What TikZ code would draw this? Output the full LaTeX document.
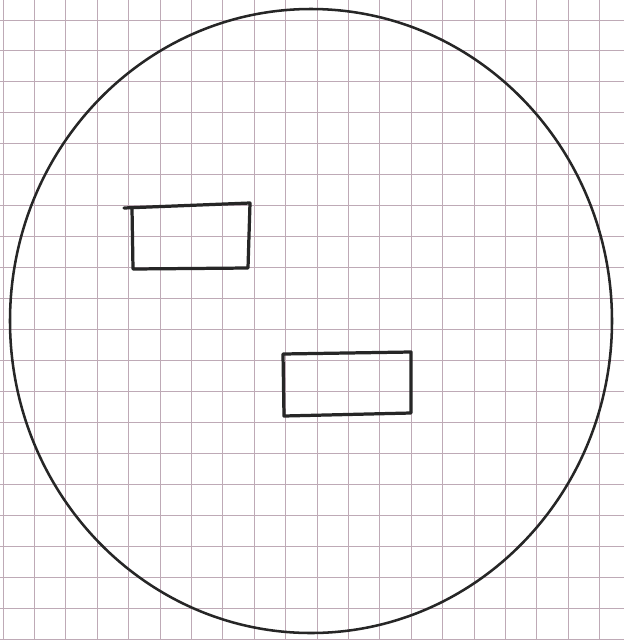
\documentclass[tikz,border=0pt]{standalone}
\usepackage{tikz}

\begin{document}
\begin{tikzpicture}[x=0.05cm, y=-0.05cm,
		raster/.style={color=gridcol, line width=1.4pt},   %Karopapier
		strich/.style={draw=black!85, line width=4.6pt, line join=round, line cap=round}]
		\definecolor{gridcol}{RGB}{190,170,182}
		%Bildbereich festlegen
		\useasboundingbox (0,0) rectangle (624,640);
		\fill[white] (0,0) rectangle (624,640);
		%Raster zeichnen
		\foreach \x in {0,...,19} \draw[raster] (3+31.4*\x,0) -- (3+31.4*\x,640);
		\foreach \y in {0,...,20} \draw[raster] (0,20+30.95*\y) -- (624,20+30.95*\y);
		%Kreis zeichnen
		\draw[strich, line width=3.6pt] (311,321) ellipse [x radius=301, y radius=312];
		%Rechtecke zeichnen
		\draw[strich] (124,208) -- (250,203) -- (248,268) -- (133,269) -- (132,208);
		\draw[strich] (283,354) -- (411,352) -- (411,413) -- (284,416) -- cycle;
	\end{tikzpicture}
\end{document}
